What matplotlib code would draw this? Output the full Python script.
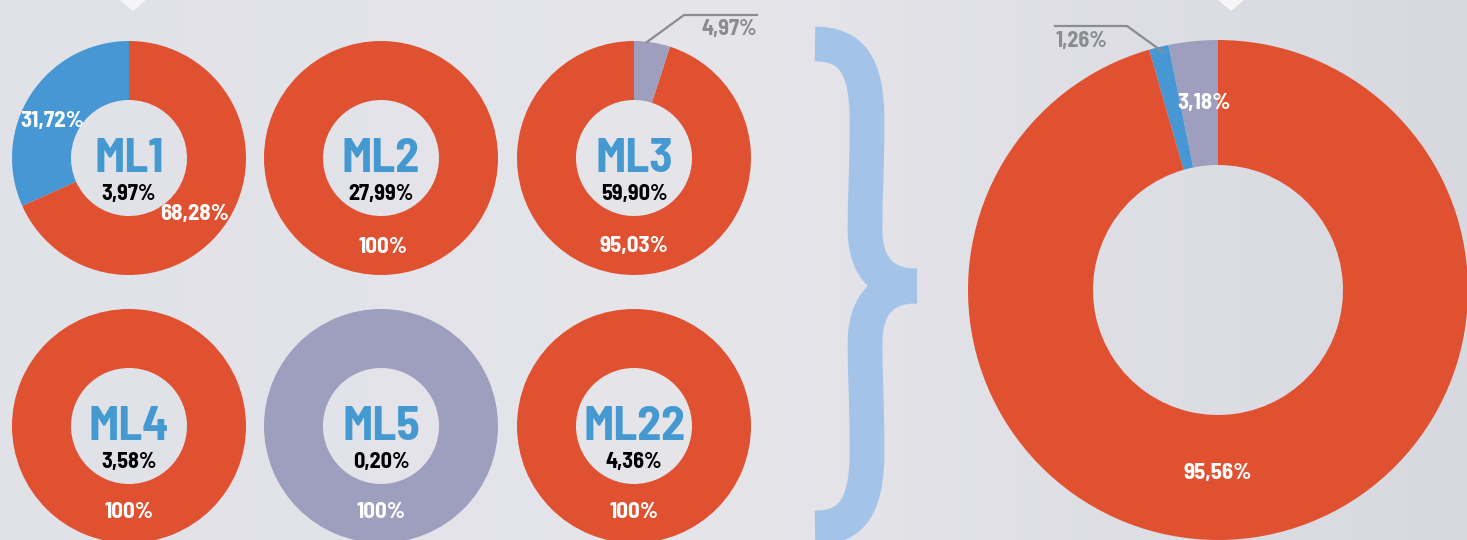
import matplotlib
matplotlib.use("Agg")
import matplotlib.pyplot as plt
from matplotlib.path import Path
from matplotlib.patches import PathPatch
import numpy as np

plt.rcParams['font.family'] = ['Barlow Semi Condensed', 'Roboto Condensed', 'DejaVu Sans']

# data
names = ["ML1", "ML2", "ML3", "ML4", "ML5", "ML22"]
share = [3.97, 27.99, 59.90, 3.58, 0.20, 4.36]
blue_part = [31.72, 0, 0, 0, 0, 0]
red_part = [68.28, 100, 95.03, 100, 0, 100]
gray_part = [0, 0, 4.97, 0, 100, 0]
total_gray = 3.18
total_blue = 1.26
total_red = 95.56

RED = "#e05131"
BLUE = "#4697d3"
GRAY = "#9e9fbe"
TXT_BLUE = "#4499d1"
LINE_GRAY = "#8b8c90"

W, H = 1467, 540


def fmt(v):
    if v == 100:
        return "100%"
    return ("%.2f" % v).replace(".", ",") + "%"


def Y(y):
    # pixel row -> data y
    return H - y


fig = plt.figure(figsize=(W / 100, H / 100), dpi=100)
ax = fig.add_axes([0, 0, 1, 1])

# background gradient
grad = np.linspace(0, 1, 300)
c_left = np.array([225, 226, 232]) / 255
c_mid = np.array([229, 229, 234]) / 255
c_right = np.array([216, 217, 224]) / 255
row = np.where(grad[:, None] < 0.5,
               c_left + (c_mid - c_left) * (grad[:, None] / 0.5),
               c_mid + (c_right - c_mid) * ((grad[:, None] - 0.5) / 0.5))
ax.imshow(row[None, :, :], extent=[0, W, 0, H], aspect='auto', zorder=0)

# small white markers at top
for cx in [133, 1231]:
    ax.fill([cx - 13, cx + 13, cx], [Y(0), Y(0), Y(11)], color="#f6f6f8", zorder=1, lw=0)

# small donuts
centers = [(129, 158), (381, 158), (634, 158), (129, 426), (381, 426), (634, 426)]
r_out, r_in = 117, 58
for i, (cx, cy) in enumerate(centers):
    vals, cols = [], []
    for v, c in zip([blue_part[i], red_part[i], gray_part[i]], [BLUE, RED, GRAY]):
        if v > 0:
            vals.append(v)
            cols.append(c)
    ax.pie(vals, colors=cols, startangle=90, counterclock=True, center=(cx, Y(cy)),
           radius=r_out, frame=True,
           wedgeprops=dict(width=r_out - r_in, edgecolor='none'))
    ax.text(cx, Y(cy + 2), names[i], ha='center', va='center', fontsize=34.5,
            fontweight='bold', color=TXT_BLUE, zorder=5)
    ax.text(cx, Y(cy + 36), fmt(share[i]), ha='center', va='center', fontsize=16,
            fontweight='bold', color='black', zorder=5)

# wedge labels
wl = dict(ha='center', va='center', fontsize=16.5, fontweight='bold', color='white', zorder=5)
ax.text(52, Y(121), fmt(blue_part[0]), **wl)
ax.text(195, Y(214), fmt(red_part[0]), **wl)
ax.text(383, Y(247), fmt(red_part[1]), **wl)
ax.text(634, Y(246), fmt(red_part[2]), **wl)
ax.text(129, Y(512), fmt(red_part[3]), **wl)
ax.text(381, Y(512), fmt(gray_part[4]), **wl)
ax.text(634, Y(512), fmt(red_part[5]), **wl)

# ML3 callout
ax.plot([647, 684, 757], [Y(42), Y(15), Y(15)], color=LINE_GRAY, lw=1.6, zorder=4)
ax.text(757, Y(29), fmt(gray_part[2]), ha='right', va='center', fontsize=16,
        fontweight='bold', color=LINE_GRAY, zorder=5)

# brace
up = [(815, 44), (852, 44), (867, 66), (867, 120), (867, 170), (865, 200), (865, 228),
      (865, 264), (880, 286), (917, 286)]
codes = [Path.MOVETO] + [Path.CURVE4] * 9
lo = [(x, 572 - y) for (x, y) in up[::-1]]
for pts in [up, lo]:
    p = Path([(x, Y(y)) for x, y in pts], codes)
    ax.add_patch(PathPatch(p, fill=False, edgecolor="#a4c3e8", lw=25, capstyle='butt', zorder=3))

# big donut
bx, by = 1218, 290
ax.pie([total_gray, total_blue, total_red], colors=[GRAY, BLUE, RED], startangle=90,
       counterclock=True, center=(bx, Y(by)), radius=250, frame=True,
       wedgeprops=dict(width=125, edgecolor='none'))
ax.text(1204, Y(103), fmt(total_gray), **wl)
ax.text(1218, Y(473), fmt(total_red), **wl)
ax.plot([1163, 1127, 1055], [Y(52), Y(26), Y(26)], color=LINE_GRAY, lw=1.6, zorder=4)
ax.text(1055, Y(41), fmt(total_blue), ha='left', va='center', fontsize=16,
        fontweight='bold', color=LINE_GRAY, zorder=5)

ax.set_xlim(0, W)
ax.set_ylim(0, H)
ax.set_aspect('auto')
ax.axis('off')

fig.savefig("out.png", dpi=100)
